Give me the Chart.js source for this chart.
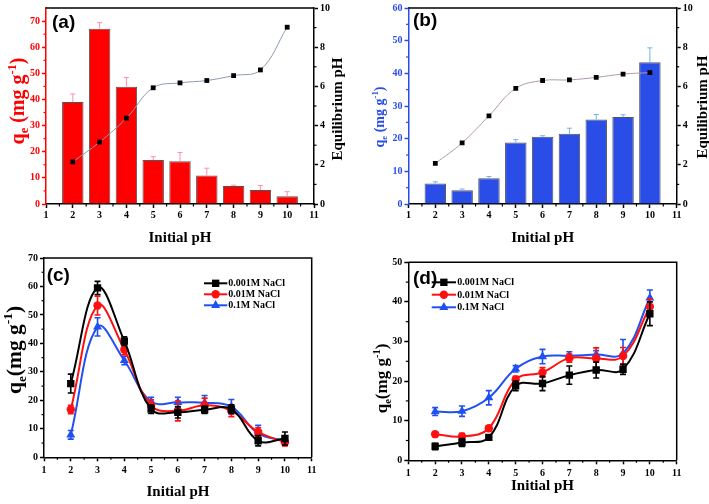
<!DOCTYPE html>
<html>
<head>
<meta charset="utf-8">
<script src="https://cdn.jsdelivr.net/npm/chart.js@4.4.1/dist/chart.umd.min.js"></script>
<style>
html, body { margin: 0; padding: 0; background: #fff; }
#page { position: relative; width: 709px; height: 504px; overflow: hidden; }
#page canvas { position: absolute; left: 0; top: 0; }
</style>
</head>
<body>
<div id="page">
    <canvas id="chart-a" width="709" height="504"></canvas>
    <canvas id="chart-b" width="709" height="504"></canvas>
    <canvas id="chart-c" width="709" height="504"></canvas>
    <canvas id="chart-d" width="709" height="504"></canvas>
</div>
<script>
// ---- data ----
const phValues = [2, 3, 4, 5, 6, 7, 8, 9, 10];
const xTicks = [1, 2, 3, 4, 5, 6, 7, 8, 9, 10, 11];
const eqTicks = [0, 2, 4, 6, 8, 10];

// (a)
const qeTicksA = [0, 10, 20, 30, 40, 50, 60, 70];
const qeA = [39.0, 67.1, 44.9, 16.8, 16.4, 10.9, 6.9, 5.4, 3.0];
const qeErrA = [3.1, 2.3, 3.5, 1.3, 3.3, 2.8, 0.3, 1.7, 1.7];
const eqPhA = [2.15, 3.16, 4.38, 5.93, 6.18, 6.30, 6.55, 6.84, 9.02];

// (b)
const qeTicksB = [0, 10, 20, 30, 40, 50, 60];
const qeB = [6.3, 4.2, 7.9, 18.8, 20.6, 21.5, 25.9, 26.6, 43.4];
const qeErrB = [0.5, 0.4, 0.5, 0.9, 0.3, 1.7, 1.5, 0.7, 4.4];
const eqPhB = [2.07, 3.12, 4.50, 5.90, 6.30, 6.33, 6.46, 6.63, 6.70];

// (c)
const saltLabels = ['0.001M NaCl', '0.01M NaCl', '0.1M NaCl'];
const qeTicksC = [0, 10, 20, 30, 40, 50, 60, 70];
const qeC001 = [25.9, 59.5, 40.8, 16.9, 15.8, 16.7, 16.9, 5.8, 6.6];
const errC001 = [3.3, 2.3, 1.5, 1.5, 2.0, 1.3, 1.5, 1.8, 2.3];
const qeC01 = [16.8, 53.3, 37.8, 18.2, 16.3, 18.3, 16.3, 8.9, 5.3];
const errC01 = [1.5, 3.3, 1.8, 2.0, 3.5, 2.5, 2.0, 1.5, 1.3];
const qeC1 = [7.9, 45.8, 34.0, 19.6, 19.3, 19.2, 17.8, 8.4, 5.8];
const errC1 = [1.5, 3.2, 1.5, 1.5, 1.8, 2.5, 2.5, 2.8, 1.5];

// (d)
const qeTicksD = [0, 10, 20, 30, 40, 50];
const qeD001 = [3.5, 4.5, 5.8, 18.8, 19.4, 21.5, 22.8, 23.0, 37.0];
const errD001 = [0.8, 1.0, 0.6, 1.2, 1.8, 2.3, 2.0, 1.3, 3.0];
const qeD01 = [6.6, 6.0, 8.1, 20.4, 22.2, 25.8, 25.7, 26.3, 38.8];
const errD01 = [0.5, 0.8, 0.6, 0.8, 1.2, 1.0, 2.7, 2.2, 2.0];
const qeD1 = [12.3, 12.4, 15.8, 23.1, 26.2, 26.4, 26.7, 27.0, 41.0];
const errD1 = [1.0, 1.3, 1.8, 0.8, 1.8, 1.0, 1.0, 3.5, 2.0];

// ---- shared styling ----
const SERIF = "'Liberation Serif', 'Times New Roman', serif";
const SANS = "'Liberation Sans', Arial, sans-serif";
const RED = '#ff0000';
const BLUE = '#2a4de8';
const SERIES_COLORS = ['#000000', '#ff1010', '#2050f0'];
const SERIES_POINTS = [
    { style: 'rect', radius: 5.2 },
    { style: 'circle', radius: 4.2 },
    { style: 'triangle', radius: 5.2 }
];

Chart.defaults.font.family = SERIF;
Chart.defaults.font.size = 10;
Chart.defaults.font.weight = 'bold';
Chart.defaults.animation = false;

function xy(values) {
    return phValues.map((x, i) => ({ x: x, y: values[i] }));
}

function midpoints(ticks) {
    const out = [];
    for (let i = 0; i < ticks.length - 1; i++) out.push((ticks[i] + ticks[i + 1]) / 2);
    return out;
}

/**
 * Axis builders
 */
function xAxis(pad) {
    return {
        type: 'linear', position: 'bottom', min: 1, max: 11, offset: false,
        afterBuildTicks: s => { s.ticks = xTicks.map(v => ({ value: v })); },
        afterFit: s => { s.height = 20; },
        ticks: { color: '#000', padding: pad, autoSkip: false, maxRotation: 0 },
        grid: { drawOnChartArea: false, offset: false, tickLength: 4, tickColor: '#000', tickWidth: 1.5 },
        border: { color: '#000', width: 1.5 }
    };
}

function yAxis(position, max, ticks, color) {
    return {
        type: 'linear', position: position, min: 0, max: max,
        afterBuildTicks: s => { s.ticks = ticks.map(v => ({ value: v })); },
        afterFit: s => { s.width = 30; },
        ticks: { color: color, padding: 2 },
        grid: { drawOnChartArea: false, tickLength: 4, tickColor: color, tickWidth: 1.5 },
        border: { color: color, width: 1.5 }
    };
}

/**
 * Drawing helpers
 */
function drawErrorBars(chart, e) {
    const meta = chart.getDatasetMeta(e.dataset);
    const yScale = chart.scales[meta.yAxisID];
    const values = chart.data.datasets[e.dataset].data;
    const ctx = chart.ctx;
    ctx.save();
    ctx.strokeStyle = e.color;
    ctx.lineWidth = e.width;
    meta.data.forEach((el, i) => {
        const v = values[i].y;
        const x = el.x;
        const top = yScale.getPixelForValue(v + e.err[i]);
        const bot = yScale.getPixelForValue(e.upOnly ? v : v - e.err[i]);
        ctx.beginPath();
        ctx.moveTo(x, bot);
        ctx.lineTo(x, top);
        ctx.moveTo(x - e.cap, top);
        ctx.lineTo(x + e.cap, top);
        if (!e.upOnly) {
            ctx.moveTo(x - e.cap, bot);
            ctx.lineTo(x + e.cap, bot);
        }
        ctx.stroke();
    });
    ctx.restore();
}

function drawMarker(ctx, style, r, x, y, color) {
    ctx.fillStyle = color;
    ctx.beginPath();
    if (style === 'rect') {
        const s = r * Math.SQRT1_2;
        ctx.rect(x - s, y - s, 2 * s, 2 * s);
    } else if (style === 'circle') {
        ctx.arc(x, y, r, 0, Math.PI * 2);
    } else {
        ctx.moveTo(x, y - r);
        ctx.lineTo(x + r * 0.866, y + r * 0.5);
        ctx.lineTo(x - r * 0.866, y + r * 0.5);
        ctx.closePath();
    }
    ctx.fill();
}

// rotated/horizontal text with sub- and superscript parts
function drawRichText(ctx, spec) {
    ctx.save();
    ctx.translate(spec.x, spec.y);
    if (spec.rotate) ctx.rotate(-Math.PI / 2);
    ctx.fillStyle = spec.color || '#000';
    ctx.textBaseline = 'alphabetic';
    ctx.textAlign = 'left';
    let total = 0;
    const runs = spec.parts.map(p => {
        const small = p.sub || p.sup;
        const font = 'bold ' + (small ? spec.size * 0.62 : spec.size) + 'px ' + (spec.family || SERIF);
        ctx.font = font;
        const w = ctx.measureText(p.t).width;
        total += w;
        return { t: p.t, font: font, w: w, dy: p.sub ? spec.size * 0.2 : (p.sup ? -spec.size * 0.42 : 0) };
    });
    let cx = spec.align === 'left' ? 0 : -total / 2;
    const base = spec.size * 0.34;
    runs.forEach(r => {
        ctx.font = r.font;
        ctx.fillText(r.t, cx, base + r.dy);
        cx += r.w;
    });
    ctx.restore();
}

const decorPlugin = {
    id: 'decor',
    afterDatasetDraw(chart, args, opts) {
        (opts.errors || []).forEach(e => {
            if (e.dataset === args.index) drawErrorBars(chart, e);
        });
    },
    afterDraw(chart, args, opts) {
        const ctx = chart.ctx;
        const a = chart.chartArea;

        // frame lines that no axis draws
        ctx.save();
        ctx.strokeStyle = '#000';
        ctx.lineWidth = 1.5;
        ctx.beginPath();
        ctx.moveTo(a.left, a.top);
        ctx.lineTo(a.right, a.top);
        if (opts.frameRight) ctx.lineTo(a.right, a.bottom);
        ctx.stroke();

        // minor ticks
        ctx.lineWidth = 1.2;
        const xs = chart.scales.x;
        ctx.strokeStyle = '#000';
        midpoints(xTicks).forEach(v => {
            const px = xs.getPixelForValue(v);
            ctx.beginPath();
            ctx.moveTo(px, a.bottom);
            ctx.lineTo(px, a.bottom + 2.5);
            ctx.stroke();
        });
        (opts.minorY || []).forEach(m => {
            const s = chart.scales[m.axis];
            ctx.strokeStyle = m.color;
            midpoints(m.ticks).forEach(v => {
                const py = s.getPixelForValue(v);
                const x0 = m.axis === 'y' ? a.left : a.right;
                const dir = m.axis === 'y' ? -1 : 1;
                ctx.beginPath();
                ctx.moveTo(x0, py);
                ctx.lineTo(x0 + dir * 2.5, py);
                ctx.stroke();
            });
        });
        ctx.restore();

        // legend
        if (opts.legend) {
            const lg = opts.legend;
            chart.data.datasets.forEach((ds, i) => {
                const y = lg.rows[i];
                ctx.save();
                ctx.strokeStyle = ds.borderColor;
                ctx.lineWidth = 2;
                ctx.beginPath();
                ctx.moveTo(lg.x0, y);
                ctx.lineTo(lg.x1, y);
                ctx.stroke();
                drawMarker(ctx, ds.pointStyle, ds.pointRadius, (lg.x0 + lg.x1) / 2, y, ds.borderColor);
                ctx.fillStyle = '#000';
                ctx.font = 'bold 10px ' + SERIF;
                ctx.textBaseline = 'middle';
                ctx.textAlign = 'left';
                ctx.fillText(ds.label, lg.textX, y + 0.5);
                ctx.restore();
            });
        }

        // titles and panel label
        (opts.texts || []).forEach(t => drawRichText(ctx, t));
    }
};

function qeTitle(x, y, size, color, spaced) {
    return {
        x: x, y: y, size: size, color: color, rotate: true,
        parts: [{ t: 'q' }, { t: 'e', sub: true }, { t: spaced ? ' (mg g' : '(mg g' }, { t: '-1', sup: true }, { t: ')' }]
    };
}

function plainText(x, y, size, text, rotate, family, align) {
    return { x: x, y: y, size: size, rotate: rotate, family: family, align: align, parts: [{ t: text }] };
}

/**
 * Panels (a) and (b): bars with equilibrium pH on a second axis
 */
function barPanel(canvasId, cfg) {
    return new Chart(document.getElementById(canvasId), {
        type: 'bar',
        data: {
            datasets: [
                {
                    type: 'line', label: 'Equilibrium pH', data: xy(cfg.eq), yAxisID: 'y2', order: 0,
                    borderColor: cfg.lineColor, borderWidth: 1, tension: 0.4,
                    pointStyle: 'rect', pointRadius: 3.4, pointBackgroundColor: '#000', pointBorderWidth: 0
                },
                {
                    type: 'bar', label: 'qe', data: xy(cfg.qe), yAxisID: 'y', order: 1,
                    backgroundColor: cfg.barColor, borderColor: '#555', borderWidth: 1,
                    barPercentage: 0.8, categoryPercentage: 1
                }
            ]
        },
        options: {
            responsive: false,
            layout: { padding: cfg.padding },
            plugins: {
                legend: { display: false },
                tooltip: { enabled: false },
                decor: {
                    errors: [{ dataset: 1, err: cfg.err, color: cfg.errColor, width: 1, cap: 2.5, upOnly: true }],
                    minorY: [
                        { axis: 'y', ticks: cfg.qeTicks, color: cfg.axisColor },
                        { axis: 'y2', ticks: eqTicks, color: '#000' }
                    ],
                    texts: cfg.texts
                }
            },
            scales: {
                x: xAxis(cfg.xPad),
                y: yAxis('left', cfg.qeMax, cfg.qeTicks, cfg.axisColor),
                y2: yAxis('right', 10, eqTicks, '#000')
            }
        },
        plugins: [decorPlugin]
    });
}

/**
 * Panels (c) and (d): three NaCl series with error bars
 */
function saltPanel(canvasId, cfg) {
    const series = [cfg.s001, cfg.s01, cfg.s1];
    const errs = [cfg.e001, cfg.e01, cfg.e1];
    return new Chart(document.getElementById(canvasId), {
        type: 'line',
        data: {
            datasets: series.map((vals, i) => ({
                label: saltLabels[i], data: xy(vals),
                borderColor: SERIES_COLORS[i], borderWidth: 2, tension: 0.4,
                pointStyle: SERIES_POINTS[i].style, pointRadius: SERIES_POINTS[i].radius,
                pointBackgroundColor: SERIES_COLORS[i], pointBorderWidth: 0
            }))
        },
        options: {
            responsive: false,
            layout: { padding: cfg.padding },
            plugins: {
                legend: { display: false },
                tooltip: { enabled: false },
                decor: {
                    frameRight: true,
                    errors: errs.map((e, i) => ({ dataset: i, err: e, color: SERIES_COLORS[i], width: 1.6, cap: 3 })),
                    minorY: [{ axis: 'y', ticks: cfg.qeTicks, color: '#000' }],
                    legend: cfg.legend,
                    texts: cfg.texts
                }
            },
            scales: {
                x: xAxis(cfg.xPad),
                y: yAxis('left', cfg.qeMax, cfg.qeTicks, '#000')
            }
        },
        plugins: [decorPlugin]
    });
}

barPanel('chart-a', {
    qe: qeA, err: qeErrA, eq: eqPhA, qeTicks: qeTicksA, qeMax: 75,
    barColor: RED, errColor: '#ff8fa8', lineColor: '#8c9ab0', axisColor: RED, xPad: 1,
    padding: { left: 16, right: 365, top: 6, bottom: 280 },
    texts: [
        plainText(52, 22, 19, '(a)', false, SANS, 'left'),
        qeTitle(17.5, 101, 20, RED, true),
        plainText(337, 109, 15, 'Equilibrium pH', true),
        plainText(180, 237, 15, 'Initial pH', false)
    ]
});

barPanel('chart-b', {
    qe: qeB, err: qeErrB, eq: eqPhB, qeTicks: qeTicksB, qeMax: 60,
    barColor: BLUE, errColor: '#72b4e4', lineColor: '#b09aae', axisColor: BLUE, xPad: 1,
    padding: { left: 378.5, right: 2.3, top: 6, bottom: 280 },
    texts: [
        plainText(413, 20, 19, '(b)', false, SANS, 'left'),
        qeTitle(379, 117, 14, BLUE, true),
        plainText(702, 107, 15, 'Equilibrium pH', true),
        plainText(542.6, 237, 15, 'Initial pH', false)
    ]
});

saltPanel('chart-c', {
    s001: qeC001, e001: errC001, s01: qeC01, e01: errC01, s1: qeC1, e1: errC1,
    qeTicks: qeTicksC, qeMax: 70, xPad: 3,
    padding: { left: 14, right: 397.3, top: 258, bottom: 26.7 },
    legend: { x0: 204, x1: 227.3, textX: 228.3, rows: [283.3, 294.3, 305.3] },
    texts: [
        plainText(46.7, 275, 19, '(c)', false, SANS, 'left'),
        qeTitle(14, 350, 21.5, '#000', false),
        plainText(178, 490.7, 15, 'Initial pH', false)
    ]
});

saltPanel('chart-d', {
    s001: qeD001, e001: errD001, s01: qeD01, e01: errD01, s1: qeD1, e1: errD1,
    qeTicks: qeTicksD, qeMax: 50, xPad: 3,
    padding: { left: 378.3, right: 32.3, top: 262.3, bottom: 23.7 },
    legend: { x0: 431.7, x1: 456, textX: 457.3, rows: [282.3, 294.7, 307.3] },
    texts: [
        plainText(413, 278, 19, '(d)', false, SANS, 'left'),
        qeTitle(381.7, 378.5, 17, '#000', false),
        plainText(542.5, 485, 15, 'Initial pH', false)
    ]
});
</script>
</body>
</html>
